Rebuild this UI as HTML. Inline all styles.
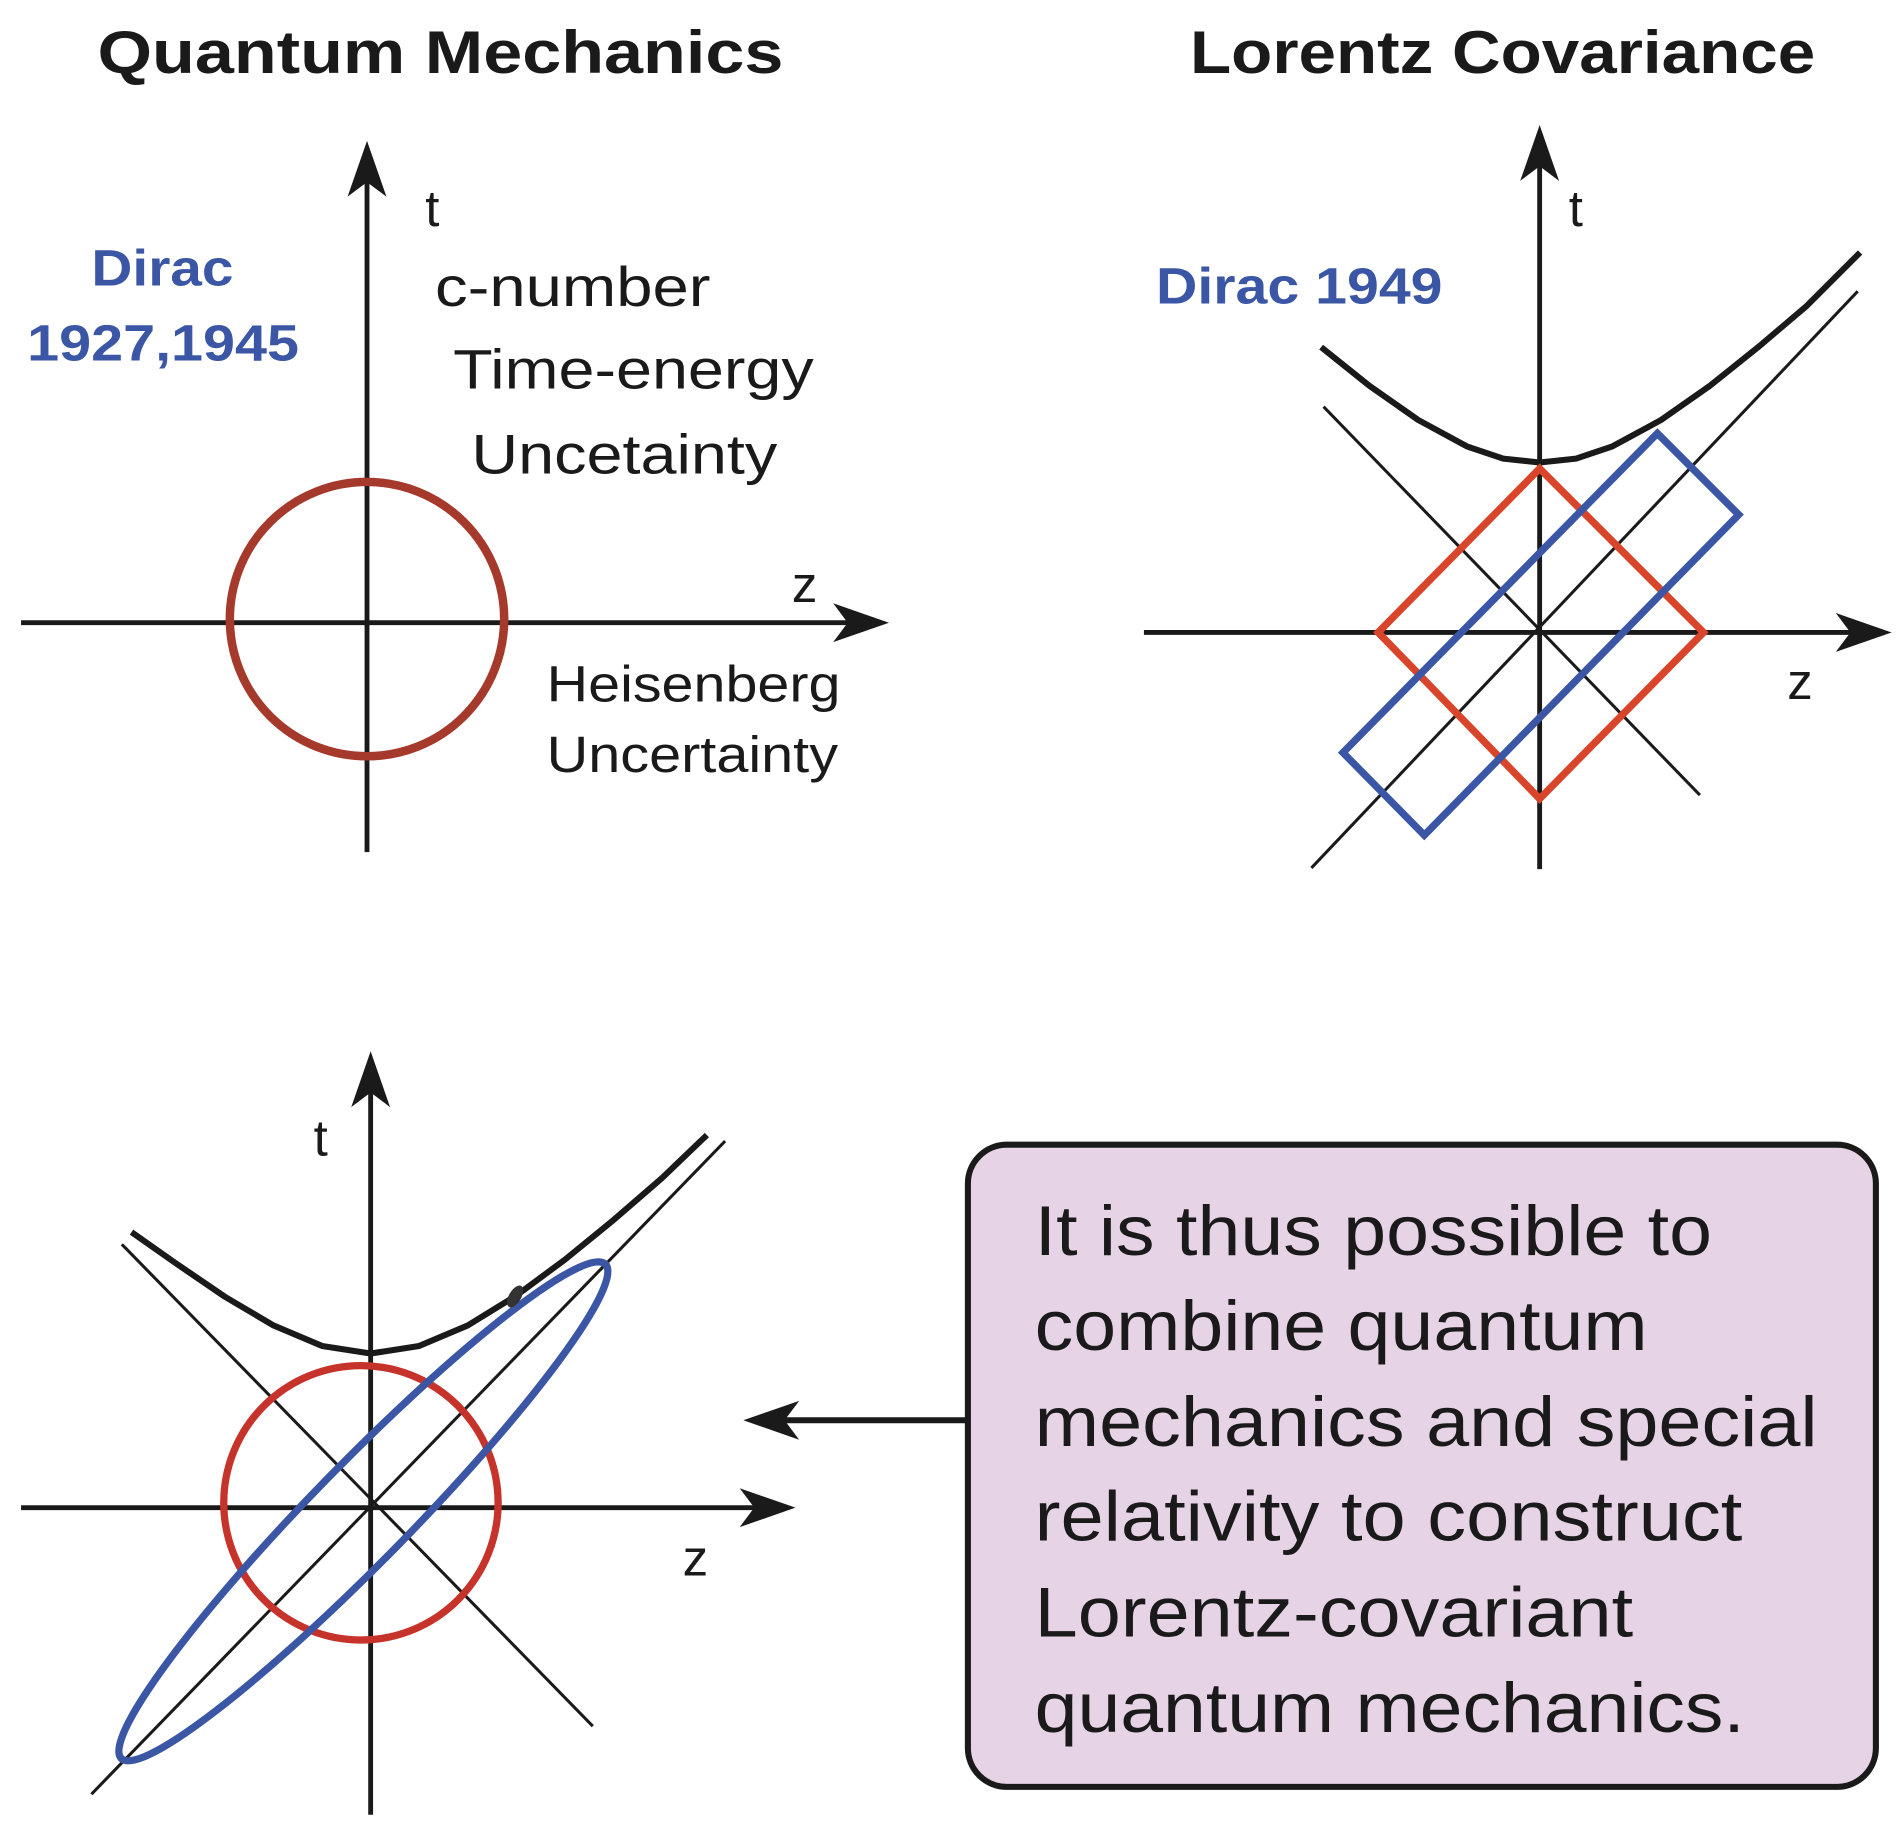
<!DOCTYPE html>
<html><head><meta charset="utf-8"><style>html,body{margin:0;padding:0;background:#fff}svg{display:block}</style></head>
<body>
<svg width="1903" height="1833" viewBox="0 0 1567 1510" xmlns="http://www.w3.org/2000/svg" font-family="Liberation Sans, Arial, sans-serif">
<rect width="1567" height="1510" fill="#fff"/>
<g fill="#1a1a1a" font-weight="bold" font-size="50" lengthAdjust="spacingAndGlyphs">
<text x="80" y="60" textLength="565" lengthAdjust="spacingAndGlyphs">Quantum Mechanics</text>
<text x="980" y="60" textLength="515" lengthAdjust="spacingAndGlyphs">Lorentz Covariance</text>
</g>
<!-- top-left -->
<g stroke="#1a1a1a" stroke-width="4" fill="none">
<line x1="302" y1="702" x2="302" y2="140"/>
<line x1="17" y1="513" x2="710" y2="513"/>
</g>
<path d="M302 116 L318 162 L302 150 L286 162 Z" fill="#1a1a1a"/>
<path d="M732 513 L686 497 L698 513 L686 529 Z" fill="#1a1a1a"/>
<circle cx="302" cy="510" r="113" fill="none" stroke="#a53a2c" stroke-width="7"/>
<g fill="#1a1a1a" font-size="42">
<text x="350" y="186">t</text>
<text x="652" y="496">z</text>
<text x="358" y="252" font-size="46" textLength="227" lengthAdjust="spacingAndGlyphs">c-number</text>
<text x="373" y="320" font-size="46" textLength="297" lengthAdjust="spacingAndGlyphs">Time-energy</text>
<text x="388" y="390" font-size="46" textLength="252" lengthAdjust="spacingAndGlyphs">Uncetainty</text>
<text x="450" y="578" font-size="42" textLength="242" lengthAdjust="spacingAndGlyphs">Heisenberg</text>
<text x="450" y="636" font-size="42" textLength="240" lengthAdjust="spacingAndGlyphs">Uncertainty</text>
</g>
<g fill="#3a56a5" font-weight="bold" font-size="42">
<text x="75" y="235" textLength="117" lengthAdjust="spacingAndGlyphs">Dirac</text>
<text x="22" y="297" textLength="224" lengthAdjust="spacingAndGlyphs">1927,1945</text>
<text x="952" y="250" textLength="236" lengthAdjust="spacingAndGlyphs">Dirac 1949</text>
</g>
<!-- top-right -->
<g stroke="#1a1a1a" stroke-width="4" fill="none">
<line x1="1268" y1="716" x2="1268" y2="128"/>
<line x1="942" y1="521" x2="1536" y2="521"/>
<line x1="1090" y1="335" x2="1400" y2="655" stroke-width="2.5"/>
<line x1="1080" y1="715" x2="1530" y2="240" stroke-width="2.5"/>
<polyline points="1088,286 1128,318 1168,346 1208,367.7 1238,377.8 1268,381 1298,377.8 1328,367.7 1368,346 1408,318 1448,286 1488,252 1532,208" stroke-width="5" stroke-linejoin="round"/>
</g>
<path d="M1268 103 L1284 149 L1268 137 L1252 149 Z" fill="#1a1a1a"/>
<path d="M1558 521 L1512 505 L1524 521 L1512 537 Z" fill="#1a1a1a"/>
<polygon points="1268,386 1403,521 1268,658 1135,521" fill="none" stroke="#d9452a" stroke-width="6"/>
<polygon points="1365,357 1432,424 1173,688 1106,620" fill="none" stroke="#3a56a5" stroke-width="6"/>
<g fill="#1a1a1a" font-size="42">
<text x="1292" y="186">t</text>
<text x="1472" y="576">z</text>
</g>
<!-- bottom -->
<g stroke="#1a1a1a" stroke-width="4" fill="none">
<line x1="305" y1="1495" x2="305" y2="890"/>
<line x1="17" y1="1242" x2="632" y2="1242"/>
<line x1="100" y1="1025" x2="488" y2="1422" stroke-width="2.5"/>
<line x1="75" y1="1478" x2="597" y2="940" stroke-width="2.5"/>
<polyline points="108,1015 145,1041 185,1068.3 225,1091.9 265,1108.8 305,1115 345,1108.8 385,1091.9 425,1067.3 465,1037.7 505,1005.1 545,970.5 582,935" stroke-width="5" stroke-linejoin="round"/>
</g>
<path d="M305 866 L321 912 L305 900 L289 912 Z" fill="#1a1a1a"/>
<path d="M655 1242 L609 1226 L621 1242 L609 1258 Z" fill="#1a1a1a"/>
<circle cx="297" cy="1238" r="113" fill="none" stroke="#c6332b" stroke-width="6"/>
<ellipse cx="299" cy="1245" rx="285" ry="40" transform="rotate(-45.6 299 1245)" fill="none" stroke="#3a56a5" stroke-width="6"/>
<ellipse cx="424" cy="1068" rx="5" ry="10" transform="rotate(30 424 1068)" fill="#333"/>
<g fill="#1a1a1a" font-size="42">
<text x="258" y="952">t</text>
<text x="562" y="1298">z</text>
</g>
<!-- box -->
<rect x="797" y="943" width="748" height="529" rx="32" fill="#e6d4e6" stroke="#1a1a1a" stroke-width="5"/>
<line x1="797" y1="1170" x2="630" y2="1170" stroke="#1a1a1a" stroke-width="5"/>
<path d="M612 1170 L658 1154 L646 1170 L658 1186 Z" fill="#1a1a1a"/>
<g fill="#1a1a1a" font-size="58">
<text x="852" y="1034" textLength="558" lengthAdjust="spacingAndGlyphs">It is thus possible to</text>
<text x="852" y="1112" textLength="505" lengthAdjust="spacingAndGlyphs">combine quantum</text>
<text x="852" y="1191" textLength="645" lengthAdjust="spacingAndGlyphs">mechanics and special</text>
<text x="852" y="1269" textLength="583" lengthAdjust="spacingAndGlyphs">relativity to construct</text>
<text x="852" y="1348" textLength="493" lengthAdjust="spacingAndGlyphs">Lorentz-covariant</text>
<text x="852" y="1427" textLength="585" lengthAdjust="spacingAndGlyphs">quantum mechanics.</text>
</g>
</svg>
</body></html>
